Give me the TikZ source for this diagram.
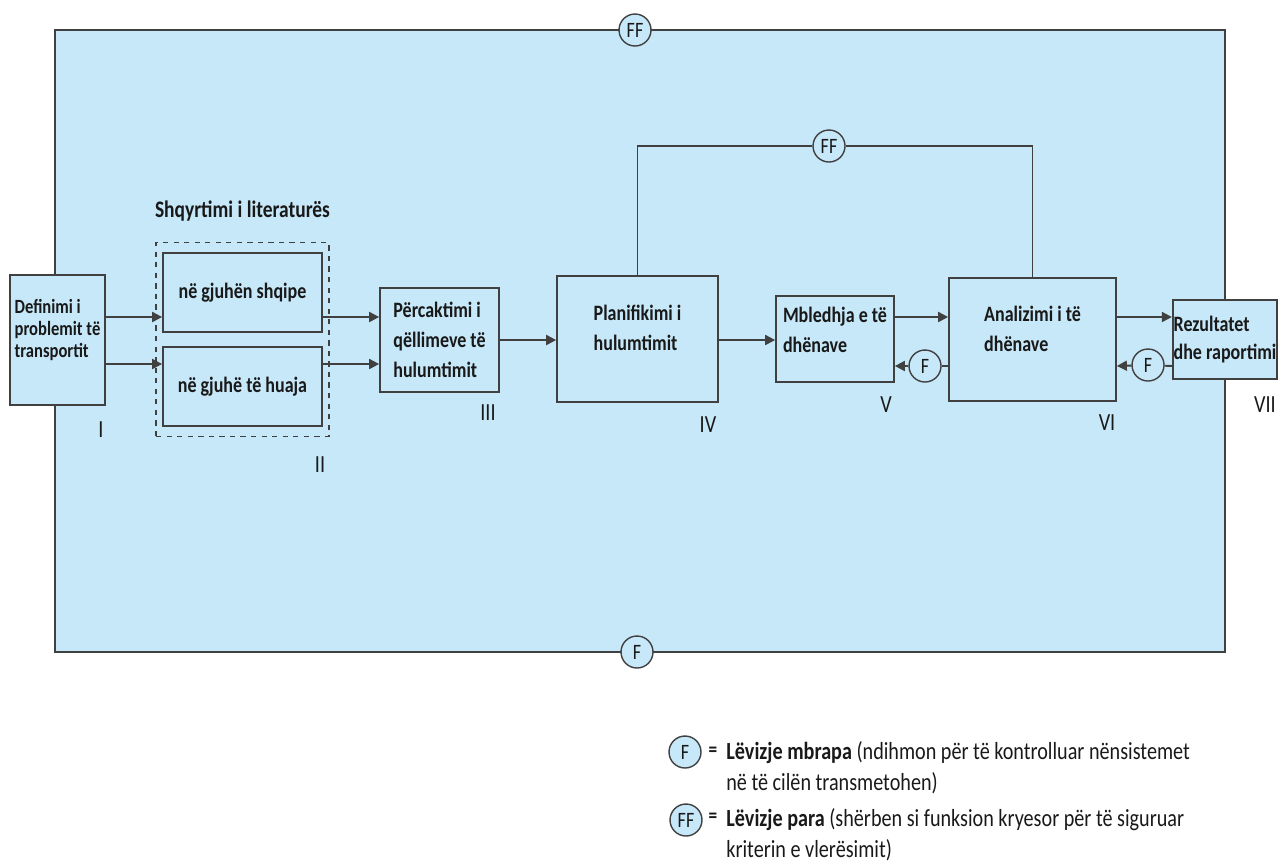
\documentclass[tikz,border=0pt]{standalone}
\usepackage{fontspec}
\setmainfont[FakeStretch=0.82]{Carlito}
\usetikzlibrary{arrows.meta,fit,positioning}
\definecolor{blueback}{RGB}{199,232,248}
\definecolor{linegray}{RGB}{64,64,64}
\definecolor{inkdark}{RGB}{25,25,25}
\tikzset{
  stage/.style={draw=linegray, fill=blueback, line width=1pt, align=left, inner sep=0.5pt, text=inkdark, font=\fontsize{12.5}{17}\selectfont\bfseries},
  flow/.style={draw=linegray, line width=1.1pt, -{Triangle[length=0.2cm,width=0.2cm]}},
  link/.style={draw=linegray, line width=1.1pt},
  fb/.style={circle, draw=linegray, fill=blueback, line width=0.8pt, inner sep=0pt, minimum size=0.64cm, text=inkdark, font=\fontsize{12.5}{14}\selectfont},
  numlabel/.style={text=inkdark, font=\fontsize{14}{16}\selectfont},
  legtext/.style={anchor=north west, align=left, inner sep=0pt, text=inkdark, font=\fontsize{14}{17.5}\selectfont}
}

\begin{document}
\begin{tikzpicture}[x=0.02cm,y=-0.02cm]
\useasboundingbox (0,0) rectangle (1287,867);
\draw [link, fill=blueback] (55,30) rectangle (1225,652);
\node [fb] (ffout) at (635,30) {FF};
\node [fb] (fout) at (637,652) {F};

\node [stage, minimum width=1.9cm, minimum height=2.6cm, text depth=0.45cm, font=\fontsize{11.5}{12.5}\selectfont\bfseries] (def) at (57.5,340) {Definimi i\\problemit të\\transportit};
\node [stage, minimum width=3.18cm, minimum height=1.58cm] (shq) at (242.5,292.5) {në gjuhën shqipe};
\node [stage, minimum width=3.18cm, minimum height=1.58cm] (hua) at (242.5,386.5) {në gjuhë të huaja};
\node [draw=linegray, dashed, line width=0.9pt, fit=(shq)(hua), inner xsep=0.12cm, inner ysep=0.19cm] (lit) {};
\node [text=inkdark, font=\fontsize{13.5}{15}\selectfont\bfseries, above=0.28cm of lit] (littitle) {Shqyrtimi i literaturës};
\node [stage, minimum width=2.38cm, minimum height=2.08cm] (goal) at (439.5,340) {Përcaktimi i\\qëllimeve të\\hulumtimit};
\node [stage, minimum width=3.22cm, minimum height=2.52cm, text depth=0.45cm] (plan) at (637.5,339) {Planifikimi i\\hulumtimit};
\node [stage, minimum width=2.36cm, minimum height=1.72cm, text depth=0.38cm] (mbl) at (835,339) {Mbledhja e të\\dhënave};
\node [stage, minimum width=3.34cm, minimum height=2.46cm, text depth=0.42cm] (anal) at (1032.5,339.5) {Analizimi i të\\dhënave};
\node [stage, minimum width=2.08cm, minimum height=1.58cm, font=\fontsize{12.5}{16}\selectfont\bfseries] (rez) at (1225,339.5) {Rezultatet\\dhe raportimi};

\node [numlabel] (nI) at (101,430) {I};
\node [numlabel] (nII) at (320,465) {II};
\node [numlabel] (nIII) at (488,413) {III};
\node [numlabel] (nIV) at (708,425) {IV};
\node [numlabel] (nV) at (886,405) {V};
\node [numlabel] (nVI) at (1107,423) {VI};
\node [numlabel] (nVII) at (1265,405) {VII};

\coordinate (up) at (0,317);
\coordinate (down) at (0,364);
\coordinate (back) at (0,366);
\draw [flow] (def.east |- up) -- (shq.west |- up);
\draw [flow] (def.east |- down) -- (hua.west |- down);
\draw [flow] (shq.east |- up) -- (goal.west |- up);
\draw [flow] (hua.east |- down) -- (goal.west |- down);
\draw [flow] (goal.east) -- (plan.west |- goal.east);
\draw [flow] (plan.east |- goal.east) -- (mbl.west |- goal.east);
\draw [flow] (mbl.east |- up) -- (anal.west |- up);
\draw [flow] (anal.east |- up) -- (rez.west |- up);

\node [fb] (fb1) at (925,366) {F};
\node [fb] (fb2) at (1148,365) {F};
\draw [link] (anal.west |- back) -- (fb1);
\draw [flow] (fb1) -- (mbl.east |- back);
\draw [link] (rez.west |- back) -- (fb2);
\draw [flow] (fb2) -- (anal.east |- back);

\node [fb] (ffmid) at (829,146) {FF};
\draw [link] (plan.north) |- (ffmid);
\draw [link] (ffmid) -| (anal.north);

% legend
\node [fb] (legf) at (685,752) {F};
\node [fb] (legff) at (686,820) {FF};
\node [text=inkdark, font=\fontsize{12}{14}\selectfont\bfseries] (eqf) at (713,752) {=};
\node [text=inkdark, font=\fontsize{12}{14}\selectfont\bfseries] (eqff) at (713,818) {=};
\node [legtext] (txtf) at (726,741) {\textbf{Lëvizje mbrapa} (ndihmon për të kontrolluar nënsistemet\\në të cilën transmetohen)};
\node [legtext] (txtff) at (726,808) {\textbf{Lëvizje para} (shërben si funksion kryesor për të siguruar\\kriterin e vlerësimit)};
\end{tikzpicture}
\end{document}
